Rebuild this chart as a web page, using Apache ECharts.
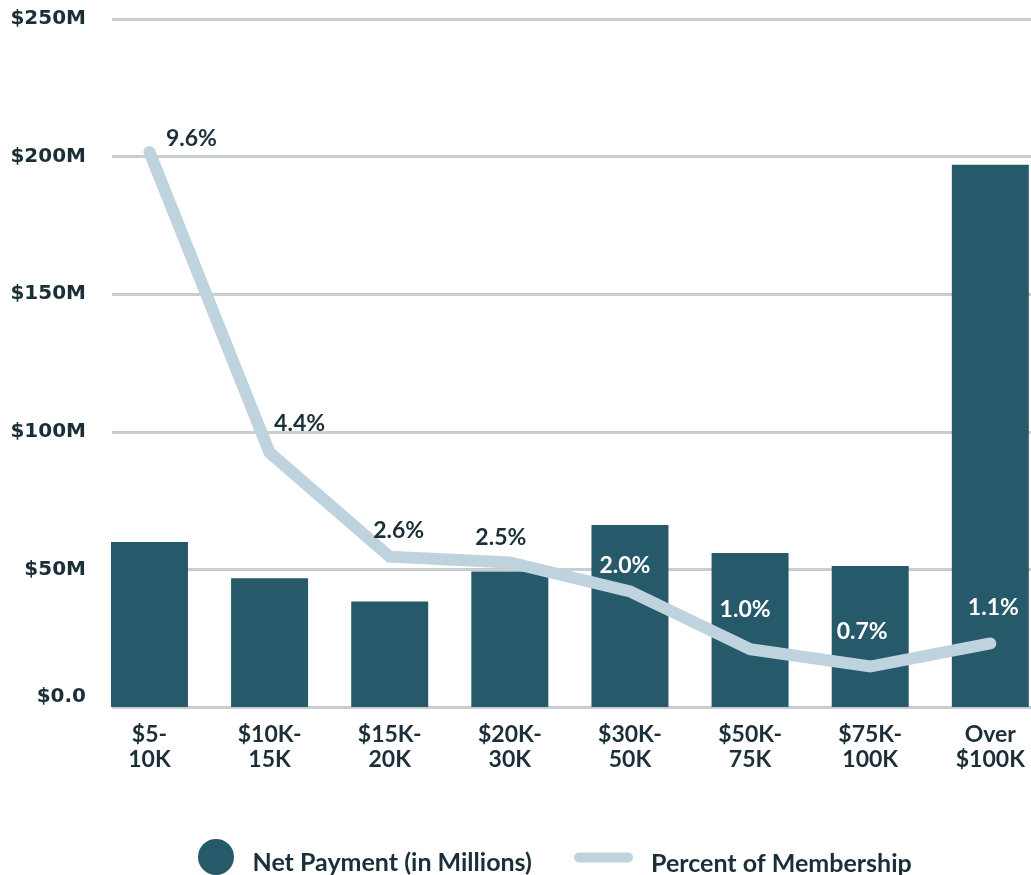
<!DOCTYPE html>
<html>
<head>
<meta charset="utf-8">
<script src="https://cdn.jsdelivr.net/npm/echarts@6/dist/echarts.min.js"></script>
<style>
  html, body { margin: 0; padding: 0; background: #fff; }
  #chart { width: 1031px; height: 875px; }
</style>
</head>
<body>
<div id="chart"></div>
<script>
// data
var categories = ['$5-\n10K', '$10K-\n15K', '$15K-\n20K', '$20K-\n30K', '$30K-\n50K', '$50K-\n75K', '$75K-\n100K', 'Over\n$100K'];
var netPayment = [60.0, 46.8, 38.3, 49.2, 66.1, 56.0, 51.2, 197.0];
var percentMembership = [9.6, 4.4, 2.6, 2.5, 2.0, 1.0, 0.7, 1.1];
var yTickLabels = ['$0.0', '$50M', '$100M', '$150M', '$200M', '$250M'];

var barColor = '#26596a';
var lineColor = '#bed3de';
var textDark = '#1b2f38';
var gridColor = '#c8cecf';

// label placement for each point (dx, dy from the point) and colour
var labelOffsets = [[42, -13], [30, -29], [9, -26], [-9, -25], [-5, -26], [-5, -40], [-8, -35], [3, -36]];
var labelColors = [textDark, textDark, textDark, textDark, '#fff', '#fff', '#fff', '#fff'];

var chart = echarts.init(document.getElementById('chart'));

var legendText = {
  fontFamily: 'Lato',
  fontWeight: 'bold',
  fontSize: 25,
  color: textDark,
  rich: {
    a: {
      fontFamily: 'Lato',
      fontWeight: 'bold',
      fontSize: 25,
      color: textDark,
      padding: [12, 0, 0, 13]
    }
  }
};

chart.setOption({
  animation: false,
  textStyle: { fontFamily: 'Lato', fontWeight: 'bold', color: textDark },
  grid: [
    { left: 112, right: 0, top: 19, bottom: 168, outerBoundsMode: 'none' },
    { left: 89.4, width: 961, top: 19, bottom: 168, outerBoundsMode: 'none' }
  ],
  xAxis: [
    { gridIndex: 0, type: 'value', show: false, min: 0, max: 1 },
    {
      gridIndex: 1,
      type: 'category',
      data: categories,
      axisLine: { show: false },
      axisTick: { show: false },
      axisLabel: {
        margin: 15,
        fontFamily: 'Lato',
        fontWeight: 'bold',
        fontSize: 23,
        lineHeight: 25,
        color: textDark,
        interval: 0
      }
    }
  ],
  yAxis: [
    {
      gridIndex: 0,
      type: 'value',
      min: 0,
      max: 250,
      interval: 50,
      axisLine: { show: false },
      axisTick: { show: false },
      splitLine: { lineStyle: { color: gridColor, width: 3 } },
      axisLabel: {
        margin: 26,
        fontFamily: 'DejaVu Sans',
        fontWeight: 'bold',
        fontSize: 20,
        color: textDark,
        formatter: function (v) {
          var t = yTickLabels[Math.round(v / 50)];
          return v === 0 ? '{z|' + t + '}' : t;
        },
        rich: {
          z: {
            fontFamily: 'DejaVu Sans',
            fontWeight: 'bold',
            fontSize: 20,
            color: textDark,
            padding: [0, 0, 20, 0]
          }
        }
      }
    },
    { gridIndex: 1, type: 'value', min: 0, max: 250, show: false },
    { gridIndex: 1, type: 'value', min: 0, max: 11.9, show: false }
  ],
  legend: [
    {
      data: [{ name: 'Net Payment (in Millions)', icon: 'circle' }],
      left: 198,
      top: 839,
      padding: 0,
      itemWidth: 37,
      itemHeight: 36,
      formatter: '{a|{name}}',
      textStyle: legendText
    },
    {
      data: [{
        name: 'Percent of Membership',
        icon: 'path://M5,0 L54,0 A5,5 0 0 1 54,10 L5,10 A5,5 0 0 1 5,0 Z',
        itemStyle: { color: lineColor, borderWidth: 0 }
      }],
      left: 574,
      top: 851,
      padding: 0,
      itemWidth: 59,
      itemHeight: 36,
      formatter: '{a|{name}}',
      textStyle: legendText
    }
  ],
  series: [
    {
      name: 'Net Payment (in Millions)',
      type: 'bar',
      xAxisIndex: 1,
      yAxisIndex: 1,
      barWidth: 77,
      itemStyle: { color: barColor },
      data: netPayment
    },
    {
      name: 'Percent of Membership',
      type: 'line',
      xAxisIndex: 1,
      yAxisIndex: 2,
      symbol: 'circle',
      symbolSize: 1,
      itemStyle: { color: lineColor },
      lineStyle: { color: lineColor, width: 12, cap: 'round', join: 'miter' },
      z: 3,
      data: percentMembership.map(function (v, i) {
        return {
          value: v,
          label: {
            show: true,
            position: 'inside',
            offset: labelOffsets[i],
            color: labelColors[i],
            fontFamily: 'Lato',
            fontWeight: 'bold',
            fontSize: 23,
            formatter: function (p) { return p.value.toFixed(1) + '%'; }
          }
        };
      })
    }
  ]
});
</script>
</body>
</html>
